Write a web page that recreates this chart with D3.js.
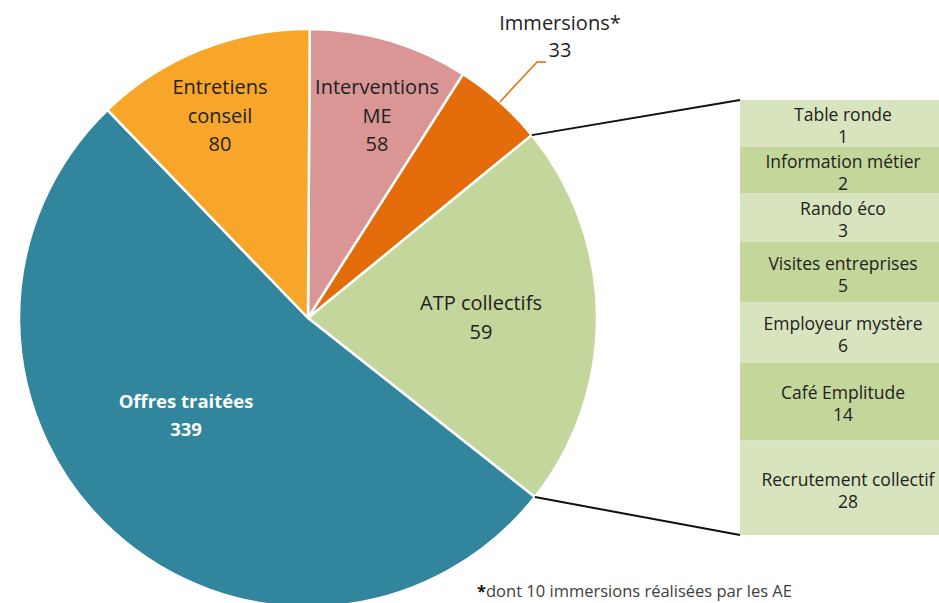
<!DOCTYPE html>
<html><head><meta charset="utf-8">
<script src="https://cdn.jsdelivr.net/npm/d3@7"></script>
<style>body{margin:0;background:#fff;overflow:hidden} svg{display:block;}</style>
</head><body><svg id="c" width="939" height="603"></svg>
<script>
// ---- data ----
const pieCategories = ["Interventions\nME", "Immersions*", "ATP collectifs", "Offres traitées", "Entretiens\nconseil"];
const pieValueLabels = [58, 33, 59, 339, 80];
const barCategories = ["Table ronde", "Information métier", "Rando éco", "Visites entreprises", "Employeur mystère", "Café Emplitude", "Recrutement collectif"];
const barValueLabels = [1, 2, 3, 5, 6, 14, 28];
// segment sizes as drawn in the secondary bar; the ATP slice is their sum
const barPlotValues = [15, 15, 15.5, 19.5, 19.5, 25, 30.5];
const piePlotValues = [58, 33, d3.sum(barPlotValues), 339, 80];
const footnote = "dont 10 immersions réalisées par les AE";

// ---- styles ----
const pieColors = ["#D99694", "#E46C0A", "#C3D69B", "#31859C", "#F8A62A"];
const barColors = ["#D8E4BD", "#C4D79B"];
const FONT = "'Open Sans', Lato, sans-serif";

const svg = d3.select("#c");
const cx = 308, cy = 318, R = 289;
const g = svg.append("g").attr("transform", `translate(${cx},${cy})`);

const pie = d3.pie().sort(null).value(d => d).startAngle(0.006).endAngle(2 * Math.PI + 0.006);
const arcs = pie(piePlotValues);
const arc = d3.arc().innerRadius(0).outerRadius(R);

g.selectAll("path.slice").data(arcs).join("path")
  .attr("class", "slice")
  .attr("d", arc)
  .attr("fill", (d, i) => pieColors[i])
  .attr("stroke", "#fff").attr("stroke-width", 2.5).attr("stroke-linejoin", "round");

// label layout (positions in page coordinates)
const labelPos = [
  {x: 377, y: 94, color: "#222", weight: 400, size: 20},
  {x: 560, y: 30, color: "#222", weight: 400, size: 20},
  {x: 481, y: 310, color: "#222", weight: 400, size: 20},
  {x: 186, y: 408, color: "#ffffff", weight: 700, size: 18.5},
  {x: 220, y: 94, color: "#222", weight: 400, size: 20}
];
const lineH = [28.5, 27, 29, 28, 28.5];

pieCategories.forEach((c, i) => {
  const lines = c.split("\n").concat([String(pieValueLabels[i])]);
  const p = labelPos[i];
  const t = svg.append("text")
    .attr("text-anchor", "middle")
    .attr("font-family", FONT).attr("font-size", p.size)
    .attr("font-weight", p.weight).attr("fill", p.color);
  lines.forEach((l, j) => {
    t.append("tspan").attr("x", p.x).attr("y", p.y + j * lineH[i]).text(l);
  });
});

// leader line for Immersions
const imm = arcs[1];
const mid = (imm.startAngle + imm.endAngle) / 2;
const sx = cx + R * Math.sin(mid), sy = cy - R * Math.cos(mid);
svg.append("path")
  .attr("d", d3.line()([[sx, sy], [537, 62], [546, 62]]))
  .attr("fill", "none").attr("stroke", "#E46C0A").attr("stroke-width", 1.5);

// ---- secondary bar ----
const barX = 740, barW = 206, barTop = 100, barBottom = 535;
const y = d3.scaleLinear().domain([0, d3.sum(barPlotValues)]).range([barTop, barBottom]);
const cum = d3.cumsum(barPlotValues);
const segs = barPlotValues.map((v, i) => ({i, y0: y(cum[i] - v), y1: y(cum[i])}));

svg.selectAll("rect.seg").data(segs).join("rect")
  .attr("class", "seg")
  .attr("x", barX).attr("width", barW)
  .attr("y", d => d.y0).attr("height", d => d.y1 - d.y0)
  .attr("fill", d => barColors[d.i % 2]);

segs.forEach(d => {
  const m = (d.y0 + d.y1) / 2;
  const t = svg.append("text").attr("text-anchor", "middle")
    .attr("font-family", FONT).attr("font-size", 17.5).attr("fill", "#222");
  const xc = d.i === 6 ? barX + 108 : barX + 103;
  t.append("tspan").attr("x", xc).attr("y", m - 2).text(barCategories[d.i]);
  t.append("tspan").attr("x", xc).attr("y", m + 20).text(barValueLabels[d.i]);
});

// connector lines
const atp = arcs[2];
const p1 = [cx + R * Math.sin(atp.startAngle), cy - R * Math.cos(atp.startAngle)];
const p2 = [cx + R * Math.sin(atp.endAngle), cy - R * Math.cos(atp.endAngle)];
svg.append("line").attr("x1", p1[0]).attr("y1", p1[1]).attr("x2", barX).attr("y2", barTop)
  .attr("stroke", "#111").attr("stroke-width", 2);
svg.append("line").attr("x1", p2[0]).attr("y1", p2[1]).attr("x2", barX).attr("y2", barBottom)
  .attr("stroke", "#111").attr("stroke-width", 2);

// footnote
const fn = svg.append("text").attr("x", 477).attr("y", 597)
  .attr("font-family", FONT).attr("font-size", 16.5).attr("fill", "#404040");
fn.append("tspan").attr("font-weight", 700).attr("fill", "#111").text("*");
fn.append("tspan").text(footnote);
</script>
</body></html>
